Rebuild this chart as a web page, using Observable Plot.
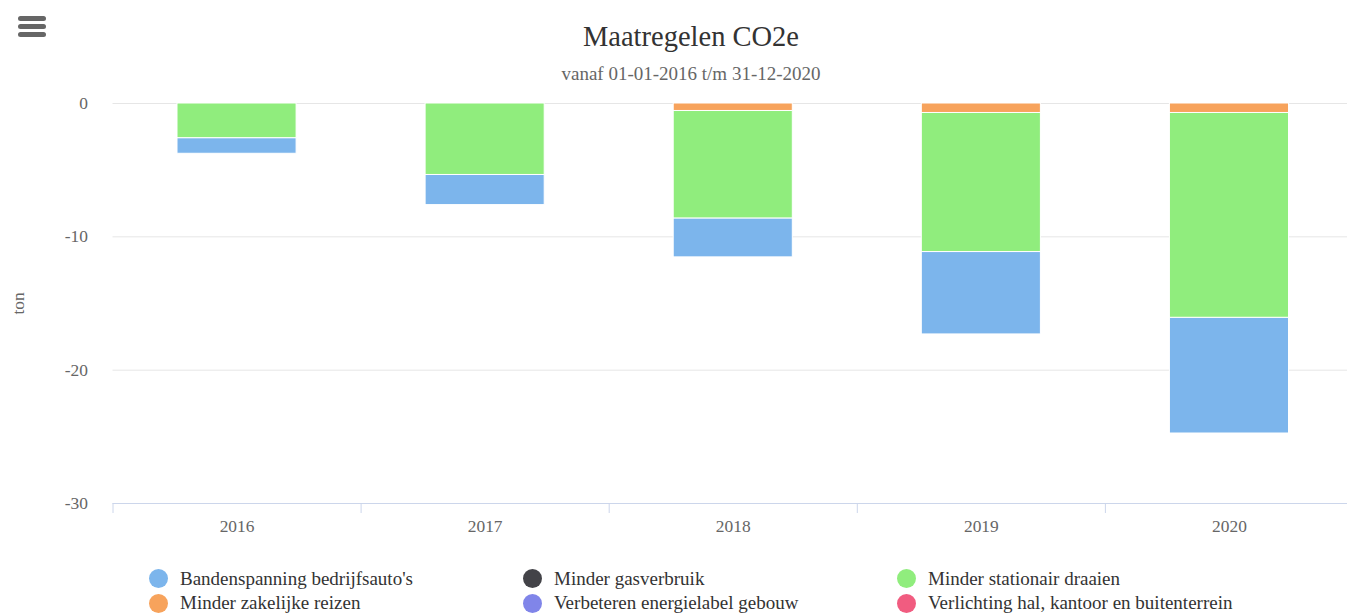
<!DOCTYPE html>
<html>
<head>
<meta charset="utf-8">
<script src="https://cdn.jsdelivr.net/npm/d3@7"></script>
<script src="https://cdn.jsdelivr.net/npm/@observablehq/plot@0.6"></script>
<style>
  body { margin: 0; background: #fff; font-family: "Liberation Serif", "Times New Roman", serif; }
  #wrap { position: relative; width: 1347px; height: 613px; overflow: hidden; }
  #menu { position: absolute; left: 18px; top: 16px; width: 28px; }
  #menu div { height: 5px; background: #666; border-radius: 3px; margin-bottom: 3px; }
  .ttl { position: absolute; left: 0; width: 1382px; text-align: center; white-space: nowrap; }
  #title { top: 20px; font-size: 28.5px; line-height: 34px; color: #333; }
  #subtitle { top: 63px; font-size: 19px; line-height: 22px; color: #666; }
  #chart { position: absolute; left: 0; top: 90px; width: 1353px; }
  #legend { position: absolute; left: 149px; top: 567px; display: grid; grid-template-columns: 374px 374px 374px; row-gap: 1.5px; }
  .item { display: flex; align-items: center; height: 23px; font-size: 19px; color: #333; white-space: nowrap; }
  .dot { width: 19px; height: 19px; border-radius: 50%; margin-right: 12px; flex: none; }
</style>
</head>
<body>
<div id="wrap">
  <div id="menu"><div></div><div></div><div></div></div>
  <div id="title" class="ttl"></div>
  <div id="subtitle" class="ttl"></div>
  <div id="chart"></div>
  <div id="legend"></div>
</div>
<script>
const titleText = "Maatregelen CO2e";
const subtitleText = "vanaf 01-01-2016 t/m 31-12-2020";
const yLabel = "ton";
const years = ["2016", "2017", "2018", "2019", "2020"];
const yTicks = [0, -10, -20, -30];
const seriesNames = [
  "Bandenspanning bedrijfsauto's",
  "Minder gasverbruik",
  "Minder stationair draaien",
  "Minder zakelijke reizen",
  "Verbeteren energielabel gebouw",
  "Verlichting hal, kantoor en buitenterrein"
];
const seriesColors = ["#7cb5ec", "#434348", "#90ed7d", "#f7a35c", "#8085e9", "#f15c80"];
// values per series, per year (ton)
const bandenspanning = [-1.17, -2.26, -2.92, -6.18, -8.68];
const gasverbruik = [0, 0, 0, 0, 0];
const stationair = [-2.6, -5.36, -8.06, -10.43, -15.36];
const zakelijkeReizen = [0, 0, -0.56, -0.71, -0.71];
const energielabel = [0, 0, 0, 0, 0];
const verlichting = [0, 0, 0, 0, 0];
const seriesValues = [bandenspanning, gasverbruik, stationair, zakelijkeReizen, energielabel, verlichting];

document.getElementById("title").textContent = titleText;
document.getElementById("subtitle").textContent = subtitleText;

const data = [];
seriesNames.forEach((s, i) => years.forEach((yr, j) => {
  if (seriesValues[i][j] !== 0) data.push({ series: s, year: yr, value: seriesValues[i][j] });
}));

const W = 1353, H = 455, mL = 112.5, mR = 0, mT = 13, mB = 42;
const step = (W - mL - mR) / years.length;

const chart = Plot.plot({
  width: W, height: H,
  marginLeft: mL, marginRight: mR, marginTop: mT, marginBottom: mB,
  style: { fontFamily: "Liberation Serif, Times New Roman, serif", fontSize: "17.4px", color: "#666", background: "#fff", maxWidth: "none" },
  x: { type: "band", domain: years, paddingInner: 0.52, paddingOuter: 0.26, align: 0.5, round: false },
  y: { domain: [-30, 0] },
  color: { domain: seriesNames, range: seriesColors },
  marks: [
    Plot.gridY({ ticks: yTicks.slice(0, 3), stroke: "#e6e6e6", strokeOpacity: 1, strokeWidth: 1 }),
    Plot.barY(data, { x: "year", y: "value", fill: "series", order: seriesNames.slice().reverse(), stroke: "#fff", strokeWidth: 1 }),
    Plot.ruleY([yTicks[3]], { stroke: "#ccd6eb", strokeWidth: 1.2 }),
    Plot.axisX({ ticks: years, tickSize: 10, text: null, label: null, stroke: "#ccd6eb", dx: -step / 2 }),
    Plot.axisX({ ticks: years, tickSize: 0, tickPadding: 16, label: null, fill: "#666" }),
    Plot.axisY({ ticks: yTicks, tickSize: 0, tickPadding: 25, fill: "#666", tickFormat: d => String(d),
      label: yLabel, labelAnchor: "center", labelOffset: 101, labelArrow: "none" })
  ]
});
document.getElementById("chart").appendChild(chart);

const legend = document.getElementById("legend");
seriesNames.forEach((s, i) => {
  const it = document.createElement("div");
  it.className = "item";
  const dot = document.createElement("span");
  dot.className = "dot";
  dot.style.background = seriesColors[i];
  const t = document.createElement("span");
  t.textContent = s;
  it.appendChild(dot); it.appendChild(t);
  legend.appendChild(it);
});
</script>
</body>
</html>
